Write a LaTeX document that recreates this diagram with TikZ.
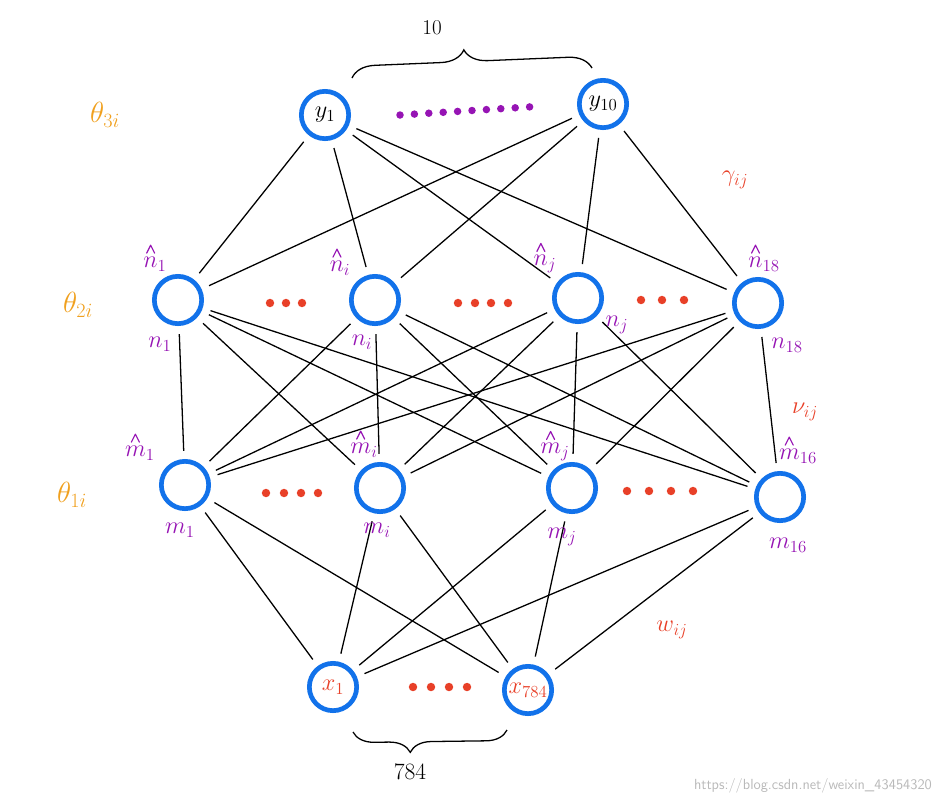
\documentclass[tikz,border=0pt]{standalone}
\usepackage{amsmath}
\usetikzlibrary{decorations.pathreplacing}

\definecolor{nnblue}{RGB}{18,114,234}
\definecolor{nnpurple}{RGB}{150,20,180}
\definecolor{nnred}{RGB}{232,64,40}
\definecolor{nnorange}{RGB}{240,160,30}

% kalap a felirat folott
\newcommand{\caret}[2]{\draw[caretline] ([shift={(#2,-3)}]#1.north west) -- ++(4,-8) -- ++(4,8);}

\begin{document}
\begin{tikzpicture}[x=0.03cm, y=-0.03cm,
    neuron/.style={circle, draw=nnblue, line width=4pt, minimum size=1.42cm, inner sep=0pt, font=\fontsize{20}{22}\selectfont},
    link/.style={line width=1.1pt, shorten >=7pt, shorten <=7pt},
    hatlab/.style={text=nnpurple, inner sep=0.5pt, font=\fontsize{20}{22}\selectfont},
    caretline/.style={draw=nnpurple, line width=1pt, line cap=round, line join=round},
    thlab/.style={text=nnorange, font=\fontsize{24}{26}\selectfont},
    wlab/.style={text=nnred, font=\fontsize{22}{24}\selectfont}]

    \useasboundingbox (0,0) rectangle (941,804);

    % --- Neuronok ---
    \node[neuron] (y1) at (325,115) {$y_1$};
    \node[neuron] (y10) at (603,104) {$y_{10}$};

    \node[neuron] (n1) at (178,300) {};
    \node[neuron] (ni) at (375,300) {};
    \node[neuron] (nj) at (578,298) {};
    \node[neuron] (n18) at (758,303) {};

    \node[neuron] (m1) at (185,485) {};
    \node[neuron] (mi) at (380,488) {};
    \node[neuron] (mj) at (572,488) {};
    \node[neuron] (m16) at (780,497) {};

    \node[neuron, text=nnred] (x1) at (333,687) {$x_1$};
    \node[neuron, text=nnred] (x784) at (528,690) {$x_{784}$};

    % --- Kapcsolatok ---
    \foreach \a in {y1, y10}
        \foreach \b in {n1, ni, nj, n18}
            \draw[link] (\a) -- (\b);

    \foreach \a in {n1, ni, nj, n18}
        \foreach \b in {m1, mi, mj, m16}
            \draw[link] (\a) -- (\b);

    \foreach \a in {m1, mi, mj, m16}
        \foreach \b in {x1, x784}
            \draw[link] (\a) -- (\b);

    % --- Pontok ---
    \foreach \i in {0, ..., 9}
        \fill[nnpurple] ({400+14.4*\i}, {115-0.9*\i}) circle (3.2pt);
    \foreach \x in {270, 286, 302}
        \fill[nnred] (\x,303) circle (3.6pt);
    \foreach \x in {458, 475, 491, 508}
        \fill[nnred] (\x,303) circle (3.6pt);
    \foreach \x in {641, 662, 684}
        \fill[nnred] (\x,300) circle (3.6pt);
    \foreach \x in {266, 284, 301, 318}
        \fill[nnred] (\x,493) circle (3.6pt);
    \foreach \x in {627, 649, 671, 693}
        \fill[nnred] (\x,491) circle (3.6pt);
    \foreach \x in {413, 431, 449, 467}
        \fill[nnred] (\x,687) circle (3.6pt);

    % --- Kapcsos zarojelek ---
    \draw[decorate, decoration={brace, amplitude=20pt, aspect=0.47}, line width=1.1pt]
        (352,78) -- (592,68);
    \node (ten) at (432,28) {\fontsize{18}{20}\selectfont 10};
    \draw[decorate, decoration={brace, amplitude=18pt, aspect=0.63}, line width=1.1pt]
        (507,730) -- (353,732);
    \node (nx) at (410,772) {\fontsize{20}{22}\selectfont 784};

    % --- Feliratok ---
    \node[hatlab] (hn1) at (155,264) {$n_1$};
    \node[hatlab] (hni) at (340,268) {$n_i$};
    \node[hatlab] (hnj) at (545,264) {$n_j$};
    \node[hatlab] (hn18) at (764,264) {$n_{18}$};
    \foreach \h in {hn1, hni, hnj, hn18}
        \caret{\h}{4};
    \node[hatlab] (ln1) at (160,344) {$n_1$};
    \node[hatlab] (lni) at (362,342) {$n_i$};
    \node[hatlab] (lnj) at (617,325) {$n_j$};
    \node[hatlab] (ln18) at (787,345) {$n_{18}$};

    \node[hatlab] (hm1) at (140,453) {$m_1$};
    \node[hatlab] (hmi) at (364,450) {$m_i$};
    \node[hatlab] (hmj) at (555,452) {$m_j$};
    \node[hatlab] (hm16) at (798,456) {$m_{16}$};
    \foreach \h in {hm1, hmi, hmj, hm16}
        \caret{\h}{7};
    \node[hatlab] (lm1) at (180,530) {$m_1$};
    \node[hatlab] (lmi) at (377,530) {$m_i$};
    \node[hatlab] (lmj) at (562,537) {$m_j$};
    \node[hatlab] (lm16) at (788,545) {$m_{16}$};

    \node[thlab] (t3) at (105,115) {$\theta_{3i}$};
    \node[thlab] (t2) at (78,305) {$\theta_{2i}$};
    \node[thlab] (t1) at (72,495) {$\theta_{1i}$};

    \node[wlab] (gam) at (735,180) {$\gamma_{ij}$};
    \node[wlab] (nu) at (805,412) {$\nu_{ij}$};
    \node[wlab] (w) at (672,630) {$w_{ij}$};

    \node[text=gray!55, font=\sffamily\fontsize{12.5}{14}\selectfont, anchor=east] (wm) at (936,786) {https://blog.csdn.net/weixin\_43454320};

\end{tikzpicture}
\end{document}
